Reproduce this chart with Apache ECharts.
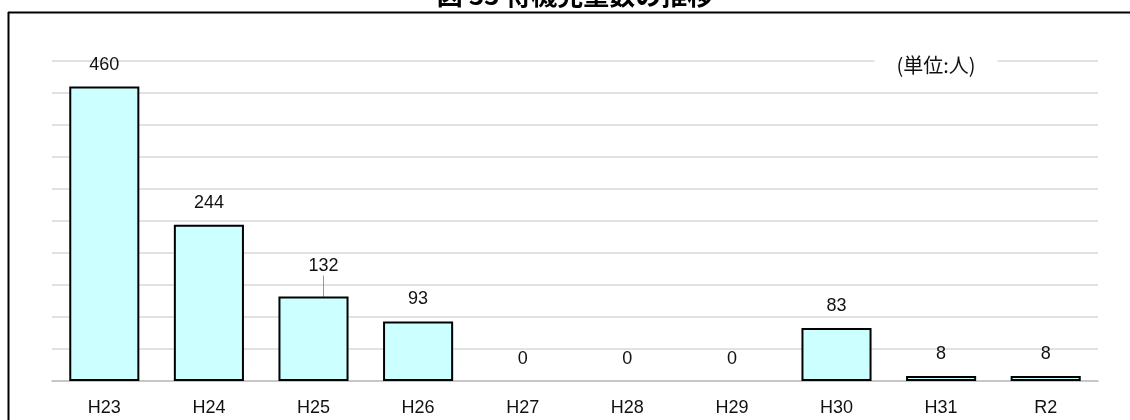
<!DOCTYPE html>
<html>
<head>
<meta charset="utf-8">
<script src="https://cdn.jsdelivr.net/npm/echarts@6/dist/echarts.min.js"></script>
<style>html,body{margin:0;padding:0;background:#fff;}#c{width:1130px;height:420px;}</style>
</head>
<body>
<div id="c"></div>
<script>
const categories = ['H23','H24','H25','H26','H27','H28','H29','H30','H31','R2'];
const waitingChildren = [460, 244, 132, 93, 0, 0, 0, 83, 8, 8];
const yTicks = [0, 50, 100, 150, 200, 250, 300, 350, 400, 450, 500];
const titleText = '図 33 待機児童数の推移';
const unitText = '(単位:人)';

const chart = echarts.init(document.getElementById('c'));
const font = '"Liberation Sans", Arial, sans-serif';
const barData = waitingChildren.map(function (v, i) {
  const item = { value: v };
  if (v === 0) item.itemStyle = { borderWidth: 0 };
  if (i === 2) item.labelLine = { show: true };
  return item;
});
chart.setOption({
  animation: false,
  backgroundColor: '#fff',
  grid: { left: 52, right: 32, top: 61, bottom: 39 },
  xAxis: {
    type: 'category',
    data: categories,
    axisLine: { show: true, lineStyle: { color: '#bfbfbf', width: 1.5 } },
    axisTick: { show: false },
    axisLabel: { color: '#111', fontSize: 18, fontFamily: font, margin: 18 }
  },
  yAxis: {
    type: 'value',
    min: yTicks[0],
    max: yTicks[yTicks.length - 1],
    interval: yTicks[1] - yTicks[0],
    axisLine: { show: false },
    axisTick: { show: false },
    axisLabel: { show: false },
    splitLine: { lineStyle: { color: '#d9d9d9', width: 1.5 } }
  },
  series: [{
    type: 'bar',
    data: barData,
    barCategoryGap: '33%',
    itemStyle: { color: '#ccffff', borderColor: '#000', borderWidth: 2 },
    label: {
      show: true, position: 'top', distance: 13,
      color: '#111', fontSize: 18, fontFamily: font
    },
    labelLine: { show: false, lineStyle: { color: '#999', width: 1 } },
    labelLayout: function (p) {
      if (p.dataIndex === 2) return { dx: 10, dy: -8 };
      return {};
    }
  }],
  graphic: [
    {
      type: 'text', x: 575, y: 8,
      style: { text: titleText, font: 'bold 26px "Noto Sans CJK JP", sans-serif', fill: '#000', textAlign: 'center', textVerticalAlign: 'bottom' }
    },
    {
      type: 'line', shape: { x1: 8, y1: 12.5, x2: 1130, y2: 12.5 },
      style: { stroke: '#000', lineWidth: 2 }
    },
    {
      type: 'line', shape: { x1: 8.5, y1: 12, x2: 8.5, y2: 420 },
      style: { stroke: '#000', lineWidth: 2 }
    },
    {
      type: 'text', x: 936, y: 65,
      style: {
        text: unitText, font: '20px "Noto Sans CJK JP", sans-serif', fill: '#111',
        textAlign: 'center', textVerticalAlign: 'middle',
        backgroundColor: '#fff', padding: [2, 22, 2, 22]
      },
      z: 100
    }
  ]
});
</script>
</body>
</html>
